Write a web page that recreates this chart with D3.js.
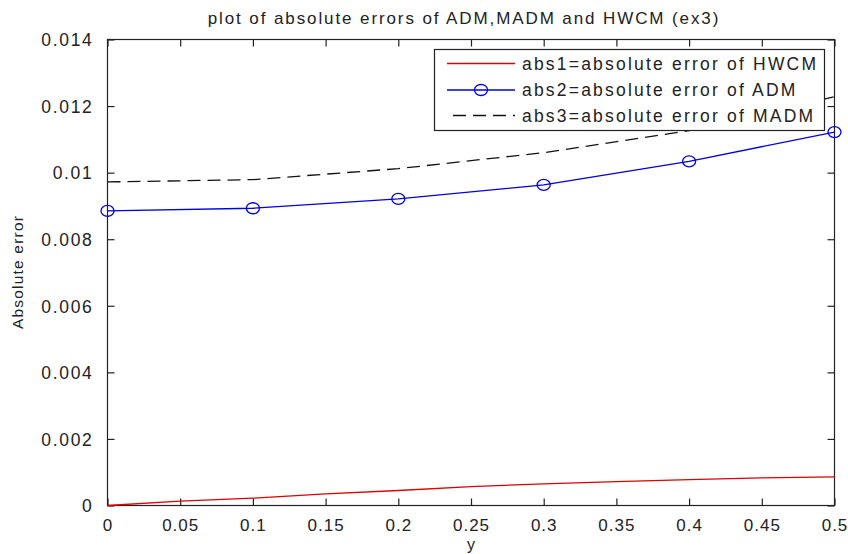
<!DOCTYPE html>
<html>
<head>
<meta charset="utf-8">
<script src="https://cdn.jsdelivr.net/npm/d3@7"></script>
<style>
  html, body { margin: 0; padding: 0; background: #fff; }
  svg { display: block; font-family: "Liberation Sans", Arial, sans-serif; }
</style>
</head>
<body>
<svg id="chart" width="848" height="554"></svg>
<script>
// ---- data ----
const titleText = "plot of absolute errors of ADM,MADM and HWCM (ex3)";
const xLabel = "y";
const yLabel = "Absolute error";
const xTicks = [0, 0.05, 0.1, 0.15, 0.2, 0.25, 0.3, 0.35, 0.4, 0.45, 0.5];
const yTicks = [0, 0.002, 0.004, 0.006, 0.008, 0.01, 0.012, 0.014];

const hwcmX = [0, 0.05, 0.1, 0.15, 0.2, 0.25, 0.3, 0.35, 0.4, 0.45, 0.5];
const hwcmY = [0, 0.00013, 0.00022, 0.00035, 0.00045, 0.00057, 0.00065, 0.00072, 0.00078, 0.00083, 0.00086];

const admX = [0, 0.1, 0.2, 0.3, 0.4, 0.5];
const admY = [0.00885, 0.00893, 0.00921, 0.00963, 0.01034, 0.01122];

const madmX = [0, 0.1, 0.2, 0.3, 0.4, 0.5];
const madmY = [0.00972, 0.00979, 0.01012, 0.0106, 0.01126, 0.01228];

const legendLabels = [
  "abs1=absolute error of HWCM",
  "abs2=absolute error of ADM",
  "abs3=absolute error of MADM"
];

// ---- layout ----
const svg = d3.select("#chart");
const L = 107.5, R = 834.5, T = 39.5, B = 505.5;

const x = d3.scaleLinear().domain([0, 0.5]).range([L, R]);
const y = d3.scaleLinear().domain([0, 0.014]).range([B, T]);

const axisColor = "#222";
const tickLen = 7;

// plot frame
svg.append("rect").attr("x", L).attr("y", T).attr("width", R - L).attr("height", B - T)
  .attr("fill", "#fff").attr("stroke", axisColor).attr("stroke-width", 1.2);

// axes with inward ticks
const fmtY = d => d === 0 ? "0" : String(+d.toFixed(3));
const fmtX = d => d === 0 ? "0" : String(+d.toFixed(2));

const gx = svg.append("g").attr("transform", `translate(0,${B})`)
  .call(d3.axisBottom(x).tickValues(xTicks).tickSize(-tickLen).tickPadding(tickLen + 6).tickFormat(fmtX));
const gxTop = svg.append("g").attr("transform", `translate(0,${T})`)
  .call(d3.axisTop(x).tickValues(xTicks).tickSize(-tickLen).tickFormat(""));
const gy = svg.append("g").attr("transform", `translate(${L},0)`)
  .call(d3.axisLeft(y).tickValues(yTicks).tickSize(-tickLen).tickPadding(tickLen + 7).tickFormat(fmtY));
const gyR = svg.append("g").attr("transform", `translate(${R},0)`)
  .call(d3.axisRight(y).tickValues(yTicks).tickSize(-tickLen).tickFormat(""));

[gx, gxTop, gy, gyR].forEach(g => {
  g.select(".domain").remove();
  g.selectAll(".tick line").attr("stroke", axisColor).attr("stroke-width", 1.2);
  g.selectAll(".tick text").attr("fill", "#222")
    .style("font-size", "17.5px").style("letter-spacing", "1.7px")
    .style("font-family", '"Liberation Sans", Arial, sans-serif');
});
gx.selectAll(".tick text").style("font-size", "17px").style("letter-spacing", "1px");
gy.selectAll(".tick text").attr("dy", "0.36em");

// lines
const line = d3.line().x(d => x(d[0])).y(d => y(d[1]));
const hwcm = hwcmX.map((v, i) => [v, hwcmY[i]]);
const adm = admX.map((v, i) => [v, admY[i]]);
const madm = madmX.map((v, i) => [v, madmY[i]]);

svg.append("path").datum(hwcm).attr("d", line)
  .attr("fill", "none").attr("stroke", "#e00000").attr("stroke-width", 1.3);
svg.append("path").datum(madm).attr("d", line)
  .attr("fill", "none").attr("stroke", "#111").attr("stroke-width", 1.3)
  .attr("stroke-dasharray", "13,7");
svg.append("path").datum(adm).attr("d", line)
  .attr("fill", "none").attr("stroke", "#0000e0").attr("stroke-width", 1.3);
svg.append("g").selectAll("ellipse").data(adm).join("ellipse")
  .attr("cx", d => x(d[0])).attr("cy", d => y(d[1]))
  .attr("rx", 6.5).attr("ry", 5.5)
  .attr("fill", "none").attr("stroke", "#0000e0").attr("stroke-width", 1.3);

// legend
const lg = svg.append("g");
const lx0 = 434.5, ly0 = 49.5, lw = 390, lh = 81;
lg.append("rect").attr("x", lx0).attr("y", ly0).attr("width", lw).attr("height", lh)
  .attr("fill", "#fff").attr("stroke", axisColor).attr("stroke-width", 1.2);
const rowsY = [63.5, 90, 115.5];
const styles = [
  {stroke: "#e00000", dash: null, marker: false},
  {stroke: "#0000e0", dash: null, marker: true},
  {stroke: "#111", dash: "13,7", marker: false}
];
legendLabels.forEach((t, i) => {
  const s = styles[i];
  const ln = lg.append("line").attr("x1", 447).attr("x2", 515)
    .attr("y1", rowsY[i]).attr("y2", rowsY[i])
    .attr("stroke", s.stroke).attr("stroke-width", 1.3);
  if (s.dash) ln.attr("stroke-dasharray", s.dash).attr("x1", 453);
  if (s.marker) lg.append("ellipse").attr("cx", 481).attr("cy", rowsY[i])
    .attr("rx", 6.5).attr("ry", 5.5).attr("fill", "none")
    .attr("stroke", s.stroke).attr("stroke-width", 1.3);
  lg.append("text").attr("x", 522).attr("y", rowsY[i]).attr("dy", "0.36em")
    .attr("fill", "#222").style("font-size", "17.5px").style("letter-spacing", "2.2px")
    .text(t);
});

// title and labels
svg.append("text").attr("x", 464).attr("y", 24).attr("text-anchor", "middle")
  .attr("fill", "#222").style("font-size", "17px").style("letter-spacing", "1.9px")
  .text(titleText);
svg.append("text").attr("x", 471).attr("y", 550).attr("text-anchor", "middle")
  .attr("fill", "#222").style("font-size", "16px")
  .text(xLabel);
svg.append("text").attr("transform", "translate(23,272) rotate(-90)").attr("text-anchor", "middle")
  .attr("fill", "#222").style("font-size", "15.5px").style("letter-spacing", "1.2px")
  .text(yLabel);
</script>
</body>
</html>
